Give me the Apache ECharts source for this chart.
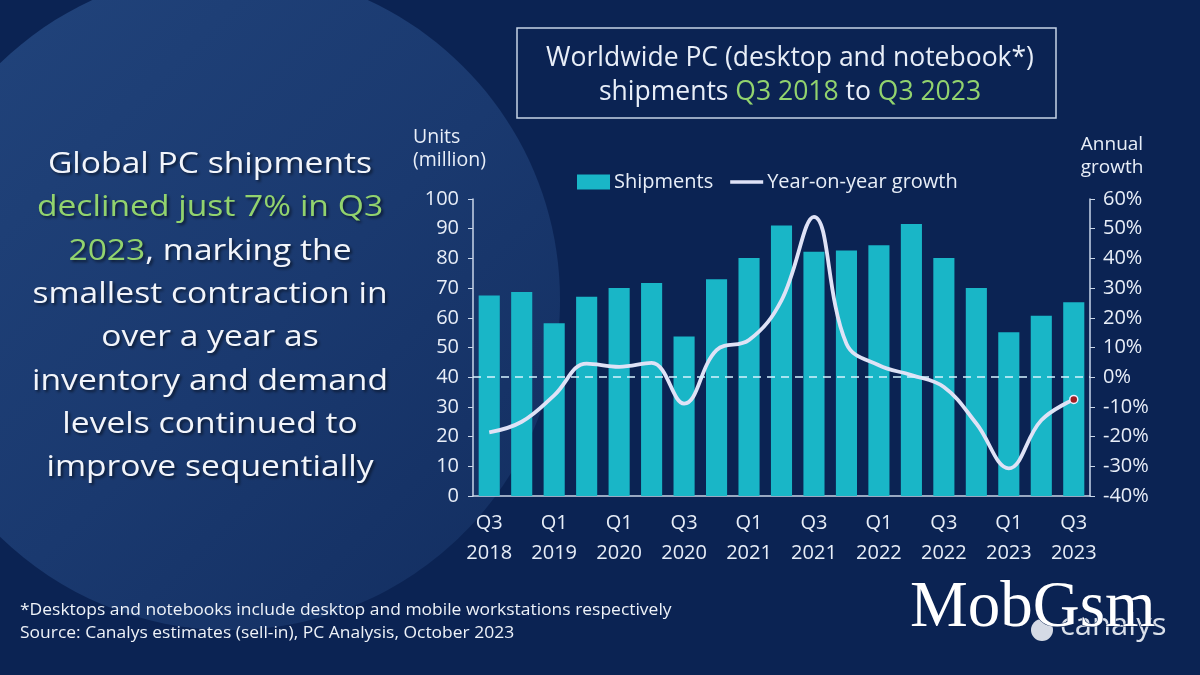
<!DOCTYPE html>
<html>
<head>
<meta charset="utf-8">
<script src="https://cdn.jsdelivr.net/npm/echarts@6/dist/echarts.min.js"></script>
<style>
html,body{margin:0;padding:0;background:#0b2353;}
#c{width:1200px;height:675px;}
</style>
</head>
<body>
<div id="c"></div>
<script>
// ---- data ----
const categories = ['Q3 2018','Q4 2018','Q1 2019','Q3 2019','Q1 2020','Q2 2020','Q3 2020','Q4 2020','Q1 2021','Q2 2021','Q3 2021','Q4 2021','Q1 2022','Q2 2022','Q3 2022','Q4 2022','Q1 2023','Q2 2023','Q3 2023'];
const shipments = [67.5, 68.7, 58.2, 67.1, 70.0, 71.7, 53.7, 73.0, 80.1, 91.1, 82.2, 82.7, 84.4, 91.6, 80.1, 70.0, 55.1, 60.7, 65.2];
const growth = [-18.6, -15.0, -6.1, 4.6, 3.5, 4.8, -8.9, 9.1, 12.5, 25.9, 54.0, 11.3, 4.0, 0.7, -3.3, -15.6, -30.7, -14.5, -7.5];
const leftTicks = {min: 0, max: 100, interval: 10};
const rightTicks = {min: -40, max: 60, interval: 10};

const FONT = '"Open Sans", Lato, sans-serif';
const TXT = '#e8eef8';
const GREEN = '#92d36e';
const AXIS = '#c9d6e8';

const chart = echarts.init(document.getElementById('c'), null, {renderer: 'canvas'});

const growthData = growth.map((v, i) => i === growth.length - 1
  ? {value: v, symbol: 'circle', symbolSize: 8, itemStyle: {color: '#a01e22', borderColor: '#f0f0ff', borderWidth: 1.5}}
  : {value: v, symbol: 'none'});

const shadow = {textShadowColor: 'rgba(0,0,0,0.55)', textShadowBlur: 3, textShadowOffsetX: 2, textShadowOffsetY: 2};

const option = {
  backgroundColor: '#0b2353',
  textStyle: {fontFamily: FONT},
  title: {
    left: 785, top: 36, textAlign: 'center',
    text: '{w|Worldwide PC (desktop and notebook*)}\n{w|shipments }{g|Q3 2018}{w| to }{g|Q3 2023}',
    textStyle: {
      rich: {
        w: {color: TXT, fontSize: 26.5, fontFamily: FONT, fontWeight: 'normal', lineHeight: 34},
        g: {color: GREEN, fontSize: 26.5, fontFamily: FONT, fontWeight: 'normal', lineHeight: 34}
      }
    }
  },
  legend: {
    left: 572, top: 167,
    itemWidth: 33, itemHeight: 15, itemGap: 17,
    textStyle: {color: TXT, fontSize: 20, fontFamily: FONT, padding: [0, 0, 0, -1]},
    data: [
      {name: 'Shipments', icon: 'rect'},
      {name: 'Year-on-year growth', icon: 'path://M0,0h33v3.5h-33z'}
    ]
  },
  grid: {left: 473, right: 110, top: 199, bottom: 179},
  xAxis: {
    type: 'category',
    data: categories,
    axisLine: {lineStyle: {color: AXIS, width: 1.5}},
    axisTick: {show: false},
    axisLabel: {
      interval: 1, color: TXT, fontSize: 20, fontFamily: FONT, lineHeight: 30, margin: 12,
      formatter: v => v.replace(' ', '\n')
    }
  },
  yAxis: [
    {
      type: 'value', min: leftTicks.min, max: leftTicks.max, interval: leftTicks.interval,
      axisLine: {show: true, lineStyle: {color: AXIS, width: 1.5}},
      axisTick: {show: true, length: 5, lineStyle: {color: AXIS}},
      splitLine: {show: false},
      axisLabel: {color: TXT, fontSize: 20, fontFamily: FONT, margin: 14}
    },
    {
      type: 'value', min: rightTicks.min, max: rightTicks.max, interval: rightTicks.interval,
      axisLine: {show: true, lineStyle: {color: AXIS, width: 1.5}},
      axisTick: {show: true, length: 5, lineStyle: {color: AXIS}},
      splitLine: {show: false},
      axisLabel: {color: TXT, fontSize: 20, fontFamily: FONT, margin: 13, formatter: '{value}%'}
    }
  ],
  series: [
    {
      name: 'Shipments', type: 'bar', data: shipments, yAxisIndex: 0,
      barCategoryGap: '35%',
      itemStyle: {color: '#19b6c7'}
    },
    {
      name: 'Year-on-year growth', type: 'line', data: growthData, yAxisIndex: 1,
      smooth: 0.4, showSymbol: true, symbol: 'none',
      lineStyle: {color: '#dfe2f6', width: 3.8},
      itemStyle: {color: '#dfe2f6'},
      z: 4,
      markLine: {
        silent: true, symbol: 'none', label: {show: false},
        lineStyle: {color: '#d6f3ff', type: [8, 6], width: 1.5},
        data: [{yAxis: 0}]
      }
    }
  ],
  graphic: [
    {type: 'ellipse', z: -10, silent: true, shape: {cx: 230, cy: 300, rx: 330, ry: 330},
     style: {fill: new echarts.graphic.LinearGradient(0, 0, 1, 1, [{offset: 0, color: '#22457d'}, {offset: 0.55, color: '#1a396f'}, {offset: 1, color: '#122d5f'}])}},
    {type: 'rect', z: 10, silent: true, shape: {x: 517, y: 28, width: 539, height: 90},
     style: {fill: 'none', stroke: '#c6d4e6', lineWidth: 1.5}},
    {type: 'text', z: 10, silent: true, x: 413, y: 126,
     style: {text: 'Units\n(million)', fill: TXT, fontSize: 19.5, fontFamily: FONT, lineHeight: 23}},
    {type: 'text', z: 10, silent: true, x: 1112, y: 133,
     style: {text: 'Annual\ngrowth', fill: TXT, fontSize: 19, fontFamily: FONT, lineHeight: 23, align: 'center'}},
    {type: 'text', z: 10, silent: true, x: 210, y: 143, scaleX: 1.14,
     style: {
       text: '{w|Global PC shipments}\n{g|declined just 7% in Q3}\n{g|2023}{w|, marking the}\n{w|smallest contraction in}\n{w|over a year as}\n{w|inventory and demand}\n{w|levels continued to}\n{w|improve sequentially}',
       align: 'center',
       rich: {
         w: Object.assign({fill: '#f2f5fb', fontSize: 29.5, fontFamily: FONT, lineHeight: 43.3}, shadow),
         g: Object.assign({fill: GREEN, fontSize: 29.5, fontFamily: FONT, lineHeight: 43.3}, shadow)
       }
     }},
    {type: 'text', z: 10, silent: true, x: 20, y: 599, scaleX: 1.04,
     style: {text: '*Desktops and notebooks include desktop and mobile workstations respectively\nSource: Canalys estimates (sell-in), PC Analysis, October 2023', fill: '#eef2f8', fontSize: 16.8, fontFamily: FONT, lineHeight: 23}},
    {type: 'circle', z: 10, silent: true, shape: {cx: 1042, cy: 630, r: 11}, style: {fill: 'rgba(235,238,245,0.9)'}},
    {type: 'text', z: 10, silent: true, x: 1060, y: 611,
     style: {text: 'canalys', fill: '#d9dfe9', fontSize: 31, fontFamily: FONT}},
    {type: 'text', z: 11, silent: true, x: 910, y: 576,
     style: {text: 'MobGsm', fill: '#ffffff', fontSize: 65, fontFamily: '"Liberation Serif", "DejaVu Serif", serif', stroke: '#0b2353', lineWidth: 1}}
  ]
};
chart.setOption(option);
</script>
</body>
</html>
